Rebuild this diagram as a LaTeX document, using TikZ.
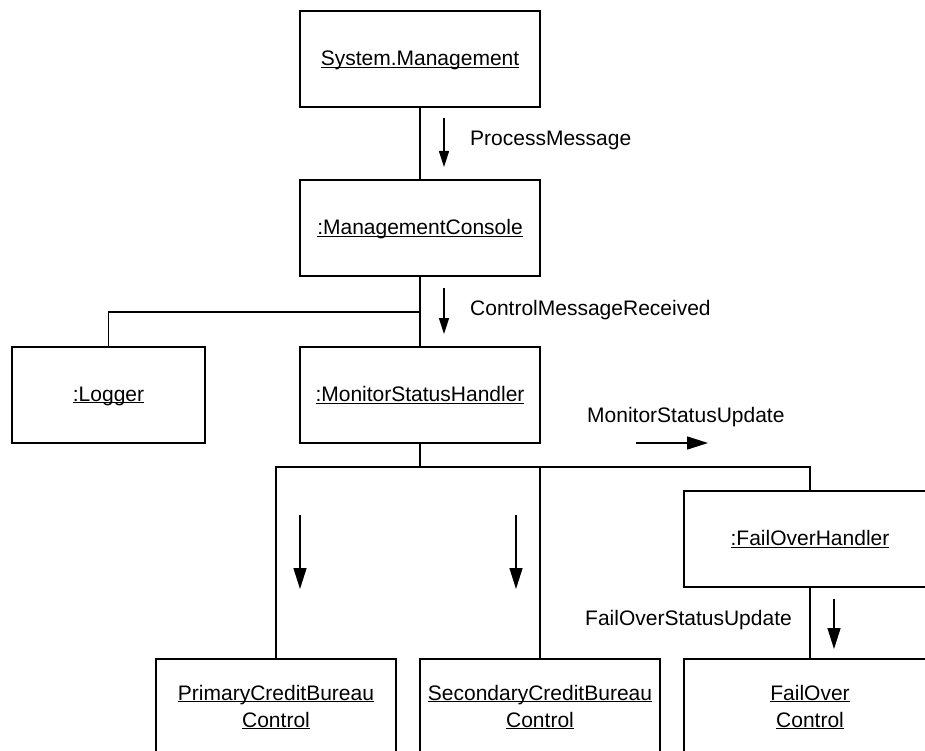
\documentclass[tikz,border=0pt]{standalone}
\usepackage{fontspec}
\setmainfont{Liberation Sans}
\usetikzlibrary{arrows.meta}
\newcommand{\ulin}[1]{\underline{\raisebox{0pt}[\height][0pt]{#1}}}
\begin{document}
\begin{tikzpicture}[x=1pt,y=-1pt,
  box/.style={draw, line width=1.5pt, minimum height=96pt, inner sep=0pt,
    font=\fontsize{21}{27}\selectfont, align=center, fill=white},
  lbl/.style={font=\fontsize{21}{24}\selectfont, anchor=west, inner sep=0pt},
  wire/.style={line width=1.5pt},
  msg/.style={line width=1.5pt, -{Triangle[length=16pt,width=10pt]}},
  bigmsg/.style={line width=1.5pt, -{Triangle[length=21pt,width=13pt]}}]
\clip (0,0) rectangle (925,751);
% boxes
\node[box, minimum width=240pt] (sys) at (420,59) {\ulin{System.Management}};
\node[box, minimum width=240pt] (mc) at (420,228) {\ulin{:ManagementConsole}};
\node[box, minimum width=193pt] (logger) at (108.5,395) {\ulin{:Logger}};
\node[box, minimum width=240pt] (msh) at (420,395) {\ulin{:MonitorStatusHandler}};
\node[box, minimum width=252pt] (foh) at (810,539) {\ulin{:FailOverHandler}};
\node[box, minimum width=240pt] (pcb) at (276,707) {\ulin{PrimaryCreditBureau}\\\ulin{Control}};
\node[box, minimum width=240pt] (scb) at (540,707) {\ulin{SecondaryCreditBureau}\\\ulin{Control}};
\node[box, minimum width=252pt] (foc) at (810,707) {\ulin{FailOver}\\\ulin{Control}};
% links
\coordinate (lj) at (420,312);
\coordinate (hj) at (420,467);
\draw[wire] (sys) -- (mc);
\draw[wire] (mc) -- (msh);
\draw[wire] (lj) -| (logger.north);
\draw[wire] (msh.south) -- (hj);
\draw[wire] (pcb.north) |- (hj) -| (foh.north);
\draw[wire] (scb.north) -- (scb.north |- hj);
\draw[wire] (foh) -- (foc);
% messages
\coordinate (m1s) at (444,118); \coordinate (m1e) at (444,167);
\coordinate (m2s) at (444,288); \coordinate (m2e) at (444,334);
\coordinate (m3s) at (636,443); \coordinate (m3e) at (708,443);
\coordinate (m4s) at (300,515); \coordinate (m4e) at (300,589);
\coordinate (m5s) at (516,515); \coordinate (m5e) at (516,589);
\coordinate (m6s) at (834,599); \coordinate (m6e) at (834,649);
\draw[msg] (m1s) -- (m1e);
\draw[msg] (m2s) -- (m2e);
\draw[bigmsg] (m3s) -- (m3e);
\draw[bigmsg] (m4s) -- (m4e);
\draw[bigmsg] (m5s) -- (m5e);
\draw[bigmsg] (m6s) -- (m6e);
\node[lbl] (l1) at (470,140) {ProcessMessage};
\node[lbl] (l2) at (470,310) {ControlMessageReceived};
\node[lbl] (l3) at (587,417) {MonitorStatusUpdate};
\node[lbl] (l4) at (585,620) {FailOverStatusUpdate};
\end{tikzpicture}
\end{document}
